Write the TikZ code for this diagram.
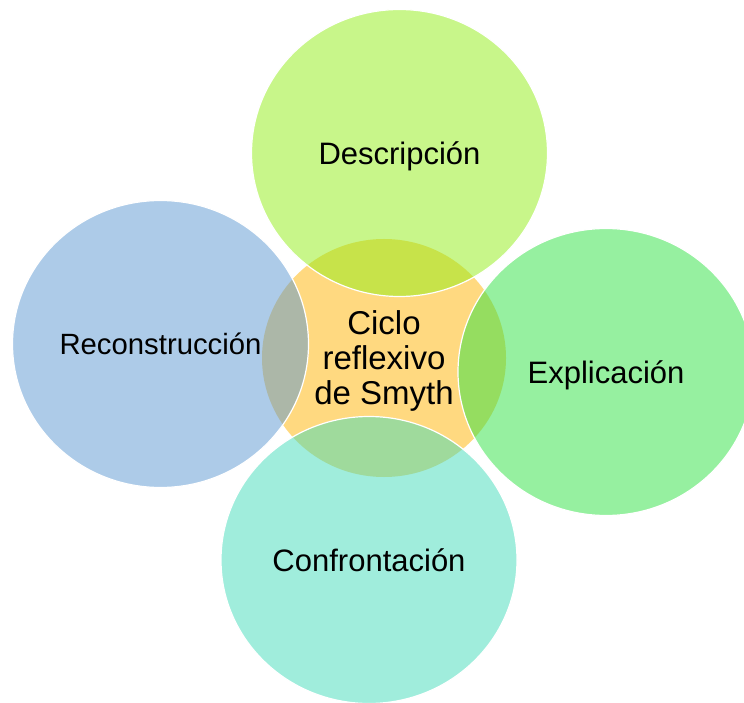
\documentclass[tikz,border=0pt]{standalone}
\usepackage{fontspec}
\setmainfont{Liberation Sans}
\usepackage{tikz}
\usetikzlibrary{shapes.geometric}
\definecolor{hubfill}{RGB}{255,217,128}
\definecolor{descfill}{RGB}{145,237,21}
\definecolor{reconfill}{RGB}{91,151,209}
\definecolor{explfill}{RGB}{45,225,65}
\definecolor{confrfill}{RGB}{65,219,185}
\tikzset{
        petal/.style={ellipse, draw=white, line width=1.2pt,
                      fill opacity=0.5, text opacity=1,
                      minimum width=296pt, minimum height=287pt,
                      text depth=0pt,
                      font=\fontsize{31}{35}\selectfont},
        hub/.style={ellipse, fill=hubfill,
                    minimum width=244pt, minimum height=238pt},
        hublabel/.style={align=center, text depth=0pt,
                         font=\fontsize{33}{35}\selectfont},
 }

\begin{document}
\begin{tikzpicture}[x=1pt, y=-1pt]
    \useasboundingbox (0,0) rectangle (744,703);

    % centre first, petals on top of it
    \node[hub] (hub) at (384,358) {};

    \node[petal, fill=descfill] (desc) at (399.5,153) {Descripción};
    \node[petal, fill=reconfill, font=\fontsize{29.3}{35}\selectfont] (recon) at (160.5,344) {Reconstrucción};
    \node[petal, fill=explfill] (expl) at (606,372) {Explicación};
    \node[petal, fill=confrfill] (confr) at (369,560) {Confrontación};

    \node[hublabel] (hubtext) at (hub) {Ciclo\\reflexivo\\de Smyth};
\end{tikzpicture}
\end{document}
